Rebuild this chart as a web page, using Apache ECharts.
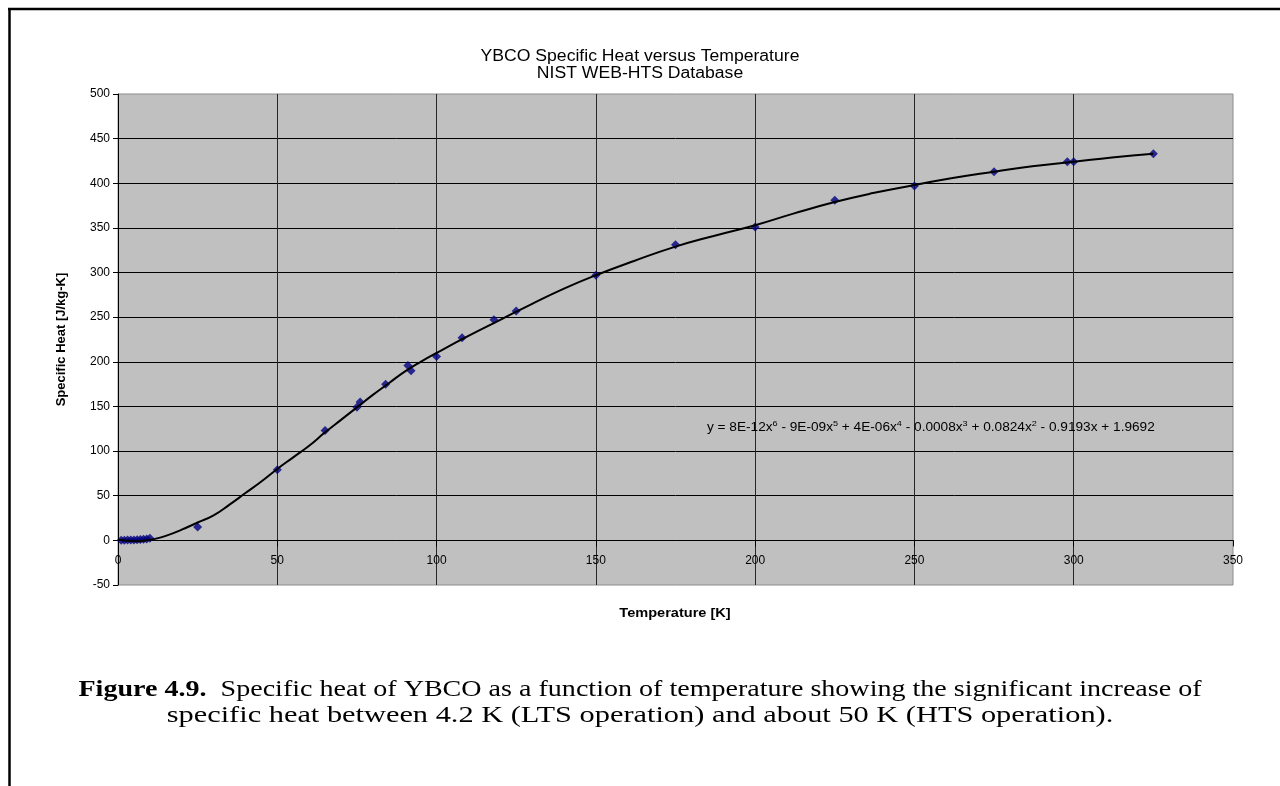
<!DOCTYPE html>
<html>
<head>
<meta charset="utf-8">
<title>YBCO Specific Heat versus Temperature</title>
<script src="https://cdn.jsdelivr.net/npm/echarts@6/dist/echarts.min.js"></script>
<style>
  html, body { margin: 0; padding: 0; background: #ffffff; }
  #chart { width: 1280px; height: 786px; }
</style>
</head>
<body>
<div id="chart"></div>
<script>
// Measured specific heat points (temperature in K, specific heat in J/kg-K)
const measuredT = [1, 2, 3, 4, 5, 6, 7, 8, 9, 10,
  25, 50, 65, 75, 76, 84, 91, 92, 100, 108, 118, 125, 150,
  175, 200, 225, 250, 275, 298, 300, 325];
const measuredCp = [0.1, 0.2, 0.3, 0.4, 0.5, 0.7, 0.9, 1.2, 1.6, 2.5,
  15, 79, 123, 149, 155, 175, 196, 190, 206, 227, 247, 257, 297,
  331, 351, 381, 397, 413, 424, 424, 433];

// Polynomial trendline traced at sample temperatures
const trendT = [0, 3, 6, 9, 12, 15, 20, 25, 30, 35, 40, 45, 50, 55, 60, 65, 70, 75,
  80, 85, 90, 95, 100, 110, 120, 130, 140, 150, 162, 175, 187, 200, 212, 225,
  237, 250, 262, 275, 287, 300, 312, 325];
const trendCp = [1, -0.5, -1, 0, 2, 5, 12, 20, 28, 40, 53, 66, 80, 93, 106, 121, 135, 149,
  163, 176, 189, 200, 210, 229, 247, 265, 282, 297, 313, 329, 341, 353, 366, 379,
  389, 398, 406, 413, 419, 424, 429, 433];

// Axis ranges and tick step
const xRange = [0, 350];
const yRange = [-50, 500];
const tickStep = 50;

const titleLines = ['YBCO Specific Heat versus Temperature', 'NIST WEB-HTS Database'];
const xAxisTitle = 'Temperature [K]';
const yAxisTitle = 'Specific Heat [J/kg-K]';
const equationText = 'y = 8E-12x{s|6} - 9E-09x{s|5} + 4E-06x{s|4} - 0.0008x{s|3} + 0.0824x{s|2} - 0.9193x + 1.9692';
const captionBold = 'Figure 4.9.';
const captionLine1 = '  Specific heat of YBCO as a function of temperature showing the significant increase of';
const captionLine2 = 'specific heat between 4.2 K (LTS operation) and about 50 K (HTS operation).';

const scatterData = measuredT.map((t, i) => [t, measuredCp[i]]);
const trendData = trendT.map((t, i) => [t, trendCp[i]]);

const sans = '"Liberation Sans", Arial, sans-serif';
const serif = '"Liberation Serif", "Times New Roman", serif';

// plot rectangle
const grid = { left: 118, right: 47, top: 94, bottom: 201 };
const plotH = 786 - grid.top - grid.bottom;
// lift the x axis from the bottom edge up to the zero line
const zeroOffset = -plotH * (0 - yRange[0]) / (yRange[1] - yRange[0]);

const chart = echarts.init(document.getElementById('chart'), null, { renderer: 'canvas' });

chart.setOption({
  animation: false,
  backgroundColor: '#ffffff',
  grid: Object.assign({
    show: true,
    backgroundColor: '#c0c0c0',
    borderColor: '#8c8c8c',
    borderWidth: 1
  }, grid),
  xAxis: {
    type: 'value',
    min: xRange[0], max: xRange[1], interval: tickStep,
    offset: zeroOffset,
    axisLine: { show: true, onZero: false, lineStyle: { color: '#000', width: 1 } },
    axisTick: { show: true, length: 6, lineStyle: { color: '#000' } },
    axisLabel: { margin: 14, fontFamily: sans, fontSize: 12, color: '#000' },
    splitLine: { show: true, showMaxLine: false, lineStyle: { color: '#262626', width: 1 } }
  },
  yAxis: {
    type: 'value',
    min: yRange[0], max: yRange[1], interval: tickStep,
    name: yAxisTitle,
    nameLocation: 'middle',
    nameGap: 50,
    nameRotate: 90,
    nameTextStyle: { fontFamily: sans, fontSize: 13, fontWeight: 'bold', color: '#000' },
    axisLine: { show: true, onZero: false, lineStyle: { color: '#000', width: 1 } },
    axisTick: { show: true, length: 5, lineStyle: { color: '#000' } },
    axisLabel: { margin: 8, fontFamily: sans, fontSize: 12, color: '#000' },
    splitLine: { show: true, showMaxLine: false, showMinLine: false, lineStyle: { color: '#000', width: 1 } }
  },
  series: [
    {
      name: 'Measured',
      type: 'scatter',
      data: scatterData,
      symbol: 'diamond',
      symbolSize: 9,
      itemStyle: { color: '#000080' },
      z: 3
    },
    {
      name: 'Poly. trendline',
      type: 'line',
      data: trendData,
      smooth: true,
      showSymbol: false,
      symbol: 'none',
      lineStyle: { color: '#000', width: 2 },
      z: 4
    }
  ],
  graphic: [
    // page frame on the left and top
    { type: 'line', shape: { x1: 9.5, y1: 8, x2: 9.5, y2: 786 }, style: { stroke: '#000', lineWidth: 2.5 } },
    { type: 'line', shape: { x1: 8, y1: 9, x2: 1280, y2: 9 }, style: { stroke: '#000', lineWidth: 2.5 } },
    // chart title
    {
      type: 'text', x: 640, y: 57, scaleX: 1.1,
      style: { text: titleLines[0], fontFamily: sans, fontSize: 16, fill: '#000', align: 'center', verticalAlign: 'middle' }
    },
    {
      type: 'text', x: 640, y: 74, scaleX: 1.1,
      style: { text: titleLines[1], fontFamily: sans, fontSize: 16, fill: '#000', align: 'center', verticalAlign: 'middle' }
    },
    // x axis title
    {
      type: 'text', x: 675, y: 613, scaleX: 1.12,
      style: { text: xAxisTitle, fontFamily: sans, fontSize: 13, fontWeight: 'bold', fill: '#000', align: 'center', verticalAlign: 'middle' }
    },
    // trendline equation
    {
      type: 'text', x: 707, y: 428, scaleX: 1.137, z: 10,
      style: {
        text: equationText,
        fontFamily: sans, fontSize: 12, fill: '#000', verticalAlign: 'middle',
        rich: { s: { fontFamily: sans, fontSize: 8, fill: '#000', padding: [0, 0, 8, 0] } }
      }
    },
    // figure caption
    {
      type: 'text', x: 640, y: 690, scaleX: 1.22,
      style: {
        text: '{b|' + captionBold + '}{n|' + captionLine1 + '}',
        align: 'center', verticalAlign: 'middle',
        rich: {
          b: { fontFamily: serif, fontSize: 23, fontWeight: 'bold', fill: '#000' },
          n: { fontFamily: serif, fontSize: 23, fill: '#000' }
        }
      }
    },
    {
      type: 'text', x: 640, y: 716, scaleX: 1.32,
      style: { text: captionLine2, fontFamily: serif, fontSize: 23, fill: '#000', align: 'center', verticalAlign: 'middle' }
    }
  ]
});
</script>
</body>
</html>
